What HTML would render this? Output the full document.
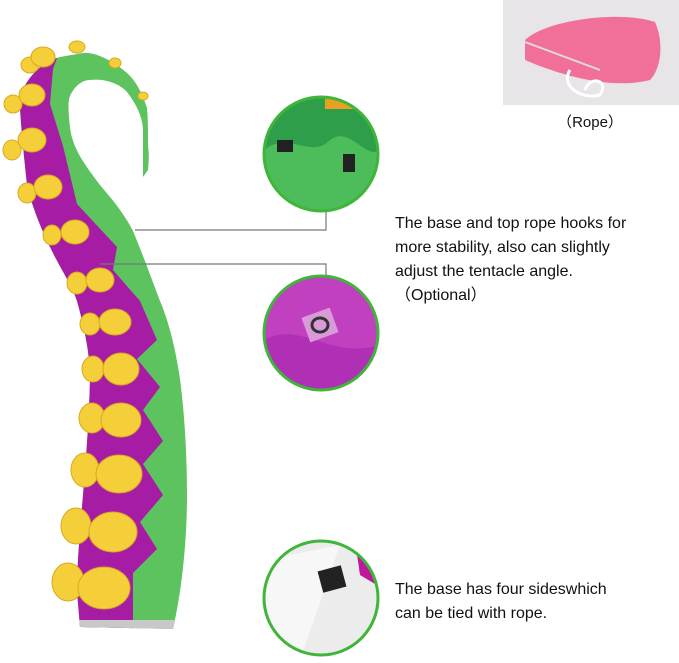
<!DOCTYPE html>
<html><head><meta charset="utf-8"><style>
html,body{margin:0;padding:0;background:#fff;}
.t{position:absolute;left:395px;font-family:"Liberation Sans",sans-serif;font-size:16px;color:#111;line-height:24px;}
</style></head><body>
<div style="position:relative;width:679px;height:663px;overflow:hidden;">
<svg width="679" height="663" style="position:absolute;left:0;top:0">
<defs>
<clipPath id="body"><path d="M60,57 C40,62 18,85 20,108 C22,140 25,165 27,185 C33,210 42,230 50,247 C60,268 72,285 77,301 C85,330 90,355 90,379 C89,420 86,460 83,495 C80,530 77,565 77,592 L80,627 L173,629 C182,590 187,540 187,495 C187,450 184,410 180,379 C175,345 168,320 160,301 C152,280 143,255 133,231 C122,210 110,197 100,185 C85,165 72,148 70,127 C68,110 68,100 70,96 C75,85 83,80 90,80 C105,78 120,84 127,92 C137,105 143,118 143,131 L143,177 L148,170 C149,160 149,152 148,146 C148,130 148,118 147,108 C142,92 135,80 127,73 C112,60 95,52 83,53 Z"/></clipPath>
<clipPath id="c1"><circle cx="321" cy="154" r="57"/></clipPath>
<clipPath id="c2"><circle cx="321" cy="333" r="57"/></clipPath>
<clipPath id="c3"><circle cx="321" cy="598" r="57"/></clipPath>
</defs>
<g clip-path="url(#body)">
<rect x="0" y="40" width="200" height="600" fill="#5cc35f"/>
<path d="M0,40 L60,50 L53,69 L50,104 L63,146 L77,204 L117,247 L113,270 L140,301 L157,340 L137,359 L160,387 L143,410 L163,441 L143,464 L163,495 L140,522 L157,549 L133,573 L133,640 L0,640 Z" fill="#a71ca5"/>
<rect x="70" y="620" width="110" height="15" fill="#c8c8c8"/>
</g>
<g fill="#f5cf3a" stroke="#d8a81e" stroke-width="1">
<ellipse cx="30" cy="65" rx="9" ry="8"/><ellipse cx="43" cy="57" rx="12" ry="10"/>
<ellipse cx="77" cy="47" rx="8" ry="6"/><ellipse cx="115" cy="63" rx="6" ry="5"/><ellipse cx="143" cy="96" rx="5" ry="4"/>
<ellipse cx="13" cy="104" rx="9" ry="9"/><ellipse cx="32" cy="95" rx="13" ry="11"/>
<ellipse cx="12" cy="150" rx="9" ry="10"/><ellipse cx="32" cy="140" rx="14" ry="12"/>
<ellipse cx="27" cy="193" rx="9" ry="10"/><ellipse cx="48" cy="187" rx="14" ry="12"/>
<ellipse cx="52" cy="235" rx="9" ry="10"/><ellipse cx="75" cy="232" rx="14" ry="12"/>
<ellipse cx="77" cy="283" rx="10" ry="11"/><ellipse cx="100" cy="280" rx="14" ry="12"/>
<ellipse cx="90" cy="324" rx="10" ry="11"/><ellipse cx="115" cy="322" rx="16" ry="13"/>
<ellipse cx="93" cy="369" rx="11" ry="13"/><ellipse cx="121" cy="369" rx="18" ry="16"/>
<ellipse cx="92" cy="418" rx="13" ry="15"/><ellipse cx="121" cy="420" rx="20" ry="17"/>
<ellipse cx="85" cy="470" rx="14" ry="17"/><ellipse cx="119" cy="474" rx="23" ry="19"/>
<ellipse cx="76" cy="526" rx="15" ry="18"/><ellipse cx="113" cy="532" rx="24" ry="20"/>
<ellipse cx="68" cy="582" rx="16" ry="19"/><ellipse cx="104" cy="588" rx="26" ry="21"/>
</g>
<g stroke="#777" stroke-width="1.2" fill="none">
<polyline points="135,230 326,230 326,212"/>
<polyline points="100,264 326,264 326,278"/>
</g>
<!-- circle1 -->
<g clip-path="url(#c1)">
<rect x="260" y="95" width="125" height="120" fill="#2e9e4a"/>
<path d="M264,150 C290,130 310,160 330,140 C350,125 365,160 380,150 L380,215 L264,215Z" fill="#4cbd5a"/>
<rect x="325" y="95" width="40" height="14" fill="#e8a020"/>
<rect x="277" y="140" width="16" height="12" fill="#222"/>
<rect x="343" y="154" width="12" height="18" fill="#222"/>
</g>
<circle cx="321" cy="154" r="57" fill="none" stroke="#3fb53a" stroke-width="3"/>
<!-- circle2 -->
<g clip-path="url(#c2)">
<rect x="260" y="275" width="125" height="120" fill="#c040c0"/>
<path d="M264,340 C300,320 330,360 380,345 L380,395 L264,395Z" fill="#b030b5"/>
<rect x="305" y="312" width="30" height="26" fill="#d99ad8" transform="rotate(-20 320 325)"/>
<ellipse cx="320" cy="325" rx="8" ry="7" fill="none" stroke="#333" stroke-width="3"/>
</g>
<circle cx="321" cy="333" r="57" fill="none" stroke="#3fb53a" stroke-width="3"/>
<!-- circle3 -->
<g clip-path="url(#c3)">
<rect x="260" y="540" width="125" height="120" fill="#ececec"/>
<path d="M264,560 L340,545 L300,660 L264,660Z" fill="#f7f7f7"/>
<path d="M355,540 L385,540 L385,590 L360,575Z" fill="#c0189a"/>
<rect x="320" y="568" width="24" height="22" fill="#222" transform="rotate(-15 332 579)"/>
</g>
<circle cx="321" cy="598" r="57" fill="none" stroke="#3fb53a" stroke-width="3"/>
<!-- rope image -->
<rect x="503" y="0" width="176" height="105" fill="#e7e5e8"/>
<path d="M525,40 C545,20 620,10 655,22 C665,45 660,70 650,80 C610,90 560,75 525,60Z" fill="#f0709a"/>
<path d="M525,42 L600,70" stroke="#ddd" stroke-width="2"/>
<path d="M570,70 C560,85 580,100 600,95 C610,80 590,75 585,90" fill="none" stroke="#fff" stroke-width="3"/>
<text x="590" y="127" font-family="Liberation Sans, sans-serif" font-size="15" text-anchor="middle" fill="#111">（Rope）</text>
</svg>
<div class="t" style="top:212px">The base and top rope hooks for<br>more stability, also can slightly<br>adjust the tentacle angle.<br>（Optional）</div>
<div class="t" style="top:578px">The base has four sideswhich<br>can be tied with rope.</div>
</div>
</body></html>
